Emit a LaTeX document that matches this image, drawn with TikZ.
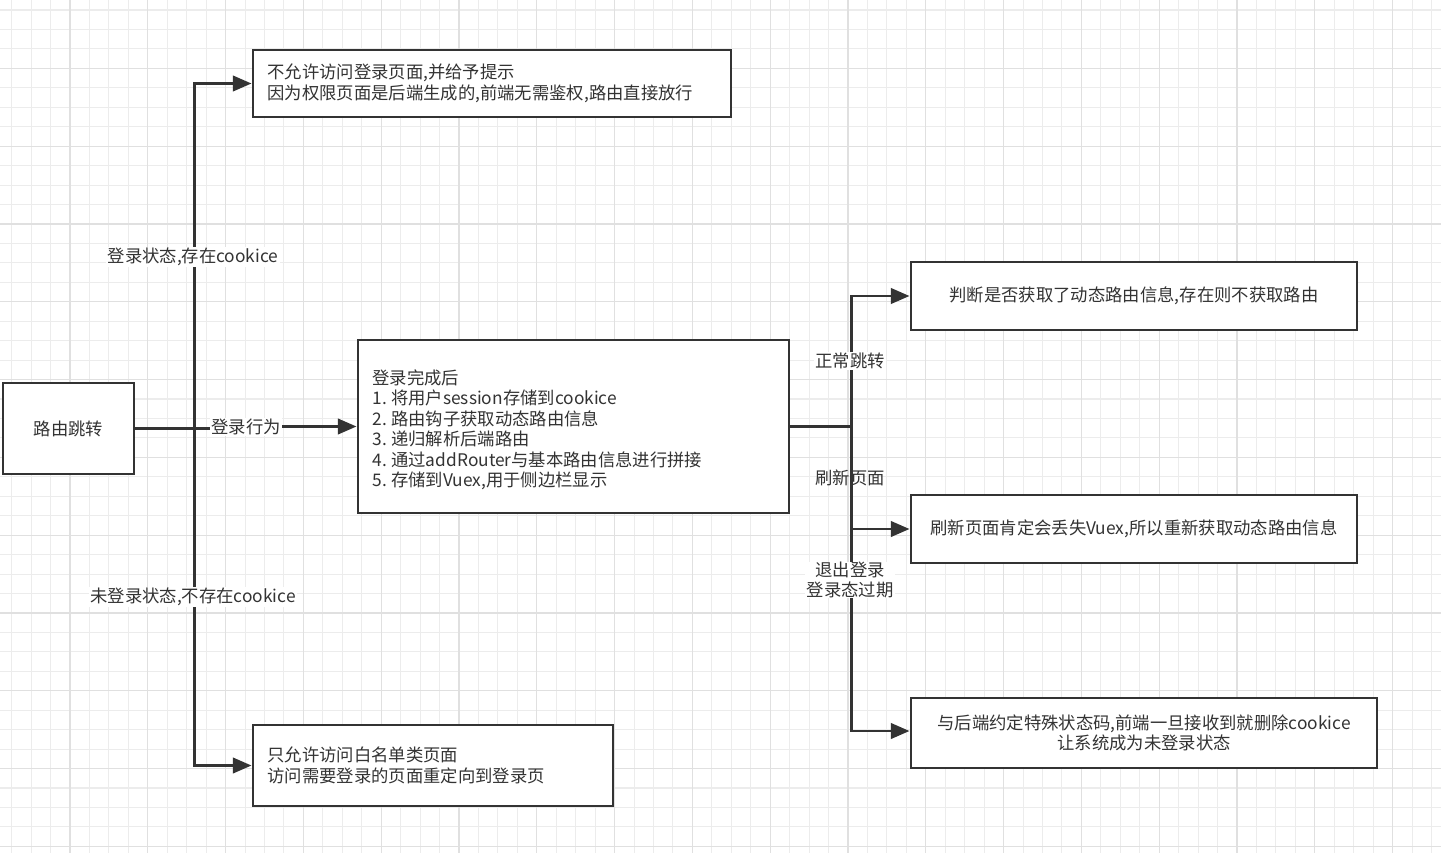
\documentclass[tikz,border=0pt]{standalone}
\usepackage{fontspec}
\setmainfont{Noto Sans CJK SC}
\usetikzlibrary{arrows.meta}
\definecolor{ink}{HTML}{333333}
\definecolor{gminor}{HTML}{ECECEC}
\definecolor{gmajor}{HTML}{E0E0E0}
\begin{document}
\begin{tikzpicture}[x=0.75pt,y=-0.75pt,
  font=\fontsize{13}{15.4}\selectfont,
  box/.style={draw=ink, line width=2.2pt, fill=white, text=ink, inner sep=0pt},
  lbox/.style={box, align=left, inner xsep={14.5*0.75pt}},
  cbox/.style={box, align=center},
  ln/.style={draw=ink, line width=2.2pt},
  arr/.style={ln, -{Triangle[length=14pt,width=11.5pt]}},
  lbl/.style={fill=white, text=ink, inner xsep=1pt, inner ysep=1pt, align=center},
  lblclear/.style={text=ink, inner sep=1pt}]
\useasboundingbox (0,0) rectangle (1441,853);
\fill[white] (0,0) rectangle (1441,853);
% grid
\foreach \i [evaluate=\i as \xx using 11.65+19.45*\i] in {0,...,74}
  \draw[gminor, line width=0.8pt] (\xx,0) -- (\xx,853);
\foreach \j [evaluate=\j as \yy using 10+19.45*\j] in {0,...,43}
  \draw[gminor, line width=0.8pt] (0,\yy) -- (1441,\yy);
\foreach \i [evaluate=\i as \xx using 70+77.8*\i] in {0,...,18}
  \draw[gmajor, line width=0.9pt] (\xx,0) -- (\xx,853);
\foreach \j [evaluate=\j as \yy using 68.3+77.8*\j] in {0,...,10}
  \draw[gmajor, line width=0.9pt] (0,\yy) -- (1441,\yy);

% nodes
\node[cbox, minimum width={131*0.75pt}, minimum height={91*0.75pt}] (n0) at (68.5,428.5) {路由跳转};
\node[lbox, text width={(478-29)*0.75pt}, minimum height={67*0.75pt}] (top) at (492,83.5)
  {不允许访问登录页面,并给予提示\\因为权限页面是后端生成的,前端无需鉴权,路由直接放行};
\node[lbox, text width={(431-29)*0.75pt}, minimum height={173*0.75pt}] (mid) at (573.5,426.5)
  {\rule{0pt}{16pt}登录完成后\\1.\hspace{0.25em}将用户session存储到cookice\\2.\hspace{0.25em}路由钩子获取动态路由信息\\3.\hspace{0.25em}递归解析后端路由\\4.\hspace{0.25em}通过addRouter与基本路由信息进行拼接\\5.\hspace{0.25em}存储到Vuex,用于侧边栏显示};
\node[lbox, text width={(360-29)*0.75pt}, minimum height={81*0.75pt}] (bl) at (433,765.5)
  {只允许访问白名单类页面\\访问需要登录的页面重定向到登录页};
\node[cbox, minimum width={446*0.75pt}, minimum height={68*0.75pt}] (r1) at (1134,296)
  {判断是否获取了动态路由信息,存在则不获取路由};
\node[cbox, minimum width={446*0.75pt}, minimum height={68*0.75pt}] (r2) at (1134,529)
  {刷新页面肯定会丢失Vuex,所以重新获取动态路由信息};
\node[cbox, minimum width={466*0.75pt}, minimum height={70*0.75pt}] (r3) at (1144,733)
  {与后端约定特殊状态码,前端一旦接收到就删除cookice\\让系统成为未登录状态};

% left connectors
\path (n0.east) ++(59,0) coordinate (J1);
\coordinate (ka) at (246,427);
\draw[ln] (n0.east) -- (J1);
\draw[arr] (J1) |- (top.west);
\draw[arr] (J1) |- (bl.west);
\draw[arr] (J1) -- (J1 -| ka) |- (mid.west);
\node[lbl] (la) at (ka) {登录行为};
\node[lbl] (lb) at (193,257) {登录状态,存在cookice};
\node[lbl] (lc) at (193,597) {未登录状态,不存在cookice};

% right connectors
\path (mid.east) ++(61,0) coordinate (J2);
\draw[ln] (mid.east) -- (J2);
\draw[arr] (J2) |- (r1.west);
\draw[arr] (J2) |- (r2.west);
\draw[arr] (J2) |- ([yshift=1.5pt]r3.west);
\node[lbl] (ld) at (850,361) {正常跳转};
\node[lblclear] (le) at (850,478) {刷新页面};
\node[lbl, inner ysep=0pt] (lf) at (850,580) {退出登录\\登录态过期};
\end{tikzpicture}
\end{document}
